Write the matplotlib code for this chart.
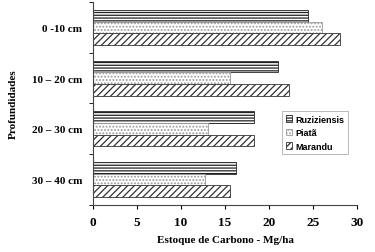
import numpy as np
import matplotlib.pyplot as plt

profundidades = ['0 -10 cm', '10 \u2013 20 cm', '20 \u2013 30 cm', '30 \u2013 40 cm']
ruziziensis = [24.4, 21.0, 18.3, 16.3]
piata = [26.0, 15.6, 13.1, 12.7]
marandu = [28.1, 22.3, 18.3, 15.6]

plt.rcParams['hatch.linewidth'] = 0.9
serif = ['Liberation Serif', 'DejaVu Serif']
sans = ['Liberation Sans', 'DejaVu Sans']

fig = plt.figure(figsize=(3.75, 2.53), dpi=100)
ax = fig.add_axes([0.248, 0.186, 0.704, 0.802])

y = np.arange(len(profundidades))
h = 0.23
ax.barh(y - h, ruziziensis, h, color='white', edgecolor='#222222', hatch='------', lw=0.6, label='Ruziziensis')
ax.barh(y, piata, h, color='white', edgecolor='#999999', hatch='.....', lw=0.6, label='Piatã')
ax.barh(y + h, marandu, h, color='white', edgecolor='#333333', hatch='/////', lw=0.6, label='Marandu')

ax.set_ylim(3.5, -0.5)
ax.set_xlim(0, 30)
ax.set_xticks(range(0, 31, 5))
ax.set_yticks(y)
ax.set_yticklabels(profundidades, fontfamily=serif, fontweight='bold', fontsize=8)
ax.set_yticks([-0.5, 0.5, 1.5, 2.5, 3.5], minor=True)
ax.tick_params(axis='y', which='major', length=0, pad=8)
ax.tick_params(axis='y', which='minor', length=3, direction='out')
ax.tick_params(axis='x', length=3, direction='out', labelsize=9.5, pad=5)
for t in ax.get_xticklabels():
    t.set_fontfamily(serif)
    t.set_fontweight('bold')

ax.spines['top'].set_visible(False)
ax.spines['right'].set_visible(False)
ax.spines['left'].set_color('#444444')
ax.spines['bottom'].set_color('#444444')

ax.set_xlabel('Estoque de Carbono - Mg/ha', fontfamily=serif, fontweight='bold', fontsize=8, labelpad=5)
ax.set_ylabel('Profundidades', fontfamily=serif, fontweight='bold', fontsize=8, labelpad=10)

leg = ax.legend(loc='upper left', bbox_to_anchor=(0.70, 0.485), frameon=True, fancybox=False,
                prop={'family': sans, 'weight': 'bold', 'size': 6.5}, handlelength=0.7, handleheight=0.7,
                handletextpad=0.3, labelspacing=0.5, borderpad=0.4, edgecolor='#999999')
leg.get_frame().set_linewidth(0.6)

fig.savefig('out.png', dpi=100)
